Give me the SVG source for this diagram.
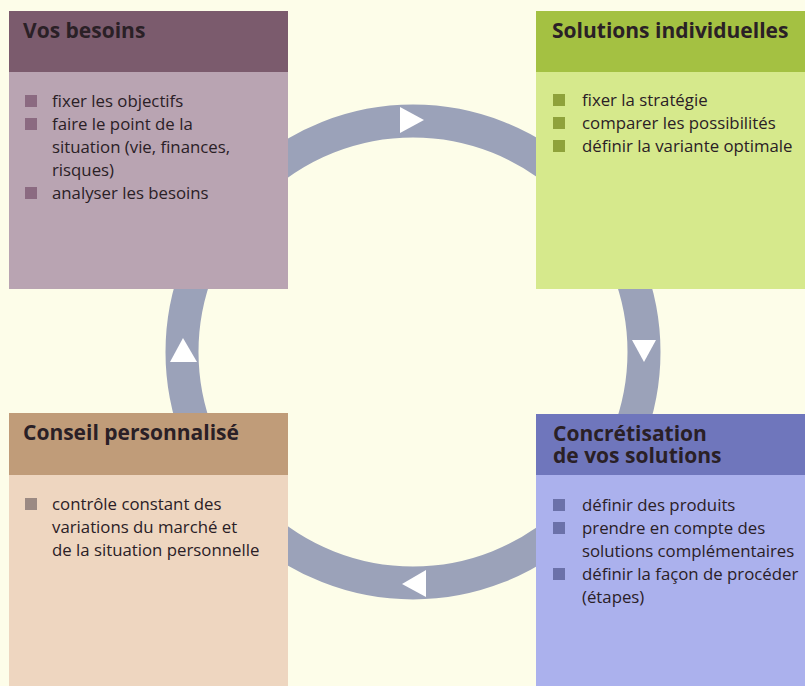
<svg xmlns="http://www.w3.org/2000/svg" width="805" height="686" viewBox="0 0 805 686">
<style>
.h{font-family:"Open Sans","Noto Sans","Liberation Sans",sans-serif;font-weight:bold;font-size:21px;fill:#2a2026}
.t{font-family:"Open Sans","Noto Sans","Liberation Sans",sans-serif;font-size:16.8px;fill:#2a2026}
.tri{fill:#ffffff}
</style>
<rect width="805" height="686" fill="#fdfde9"/>
<g id="connectors">
<circle cx="413" cy="352" r="231" fill="none" stroke="#9ba2b9" stroke-width="33"/>
<polygon class="tri" points="400,107 400,133 424,120"/>
<polygon class="tri" points="632,340 656,340 644,362"/>
<polygon class="tri" points="426,570 426,597 402,584"/>
<polygon class="tri" points="170,362 197,362 183,338"/>
</g>
<g id="vos-besoins">
<rect x="9" y="11" width="279" height="278" fill="#b9a4b2"/>
<rect x="9" y="11" width="279" height="61" fill="#7b5b6d"/>
<text class="h" x="23" y="38">Vos besoins</text>
<g fill="#8b6a81">
<rect x="25" y="95" width="12" height="12"/>
<rect x="25" y="118" width="12" height="12"/>
<rect x="25" y="187" width="12" height="12"/>
</g>
<text class="t" x="52" y="107">fixer les objectifs</text>
<text class="t" x="52" y="130">faire le point de la</text>
<text class="t" x="52" y="153">situation (vie, finances,</text>
<text class="t" x="52" y="176">risques)</text>
<text class="t" x="52" y="199">analyser les besoins</text>
</g>
<g id="solutions-individuelles">
<rect x="536" y="11" width="269" height="278" fill="#d6e98c"/>
<rect x="536" y="11" width="269" height="61" fill="#a4c142"/>
<text class="h" x="552" y="38">Solutions individuelles</text>
<g fill="#8fa23b">
<rect x="553" y="94" width="12" height="12"/>
<rect x="553" y="117" width="12" height="12"/>
<rect x="553" y="140" width="12" height="12"/>
</g>
<text class="t" x="582" y="106">fixer la stratégie</text>
<text class="t" x="582" y="129">comparer les possibilités</text>
<text class="t" x="582" y="152">définir la variante optimale</text>
</g>
<g id="conseil-personnalise">
<rect x="9" y="413" width="279" height="273" fill="#eed6c0"/>
<rect x="9" y="413" width="279" height="62" fill="#c09c79"/>
<text class="h" x="23" y="440">Conseil personnalisé</text>
<rect x="25" y="498" width="12" height="12" fill="#9b8a83"/>
<text class="t" x="52" y="510">contrôle constant des</text>
<text class="t" x="52" y="533">variations du marché et</text>
<text class="t" x="52" y="556">de la situation personnelle</text>
</g>
<g id="concretisation">
<rect x="536" y="414" width="269" height="272" fill="#abb1ed"/>
<rect x="536" y="414" width="269" height="61" fill="#6f76bc"/>
<text class="h" x="553" y="441">Concrétisation<tspan x="553" dy="22">de vos solutions</tspan></text>
<g fill="#6b71a9">
<rect x="553" y="499" width="12" height="12"/>
<rect x="553" y="522" width="12" height="12"/>
<rect x="553" y="568" width="12" height="12"/>
</g>
<text class="t" x="582" y="511">définir des produits</text>
<text class="t" x="582" y="534">prendre en compte des</text>
<text class="t" x="582" y="557">solutions complémentaires</text>
<text class="t" x="582" y="580">définir la façon de procéder</text>
<text class="t" x="582" y="603">(étapes)</text>
</g>
</svg>
